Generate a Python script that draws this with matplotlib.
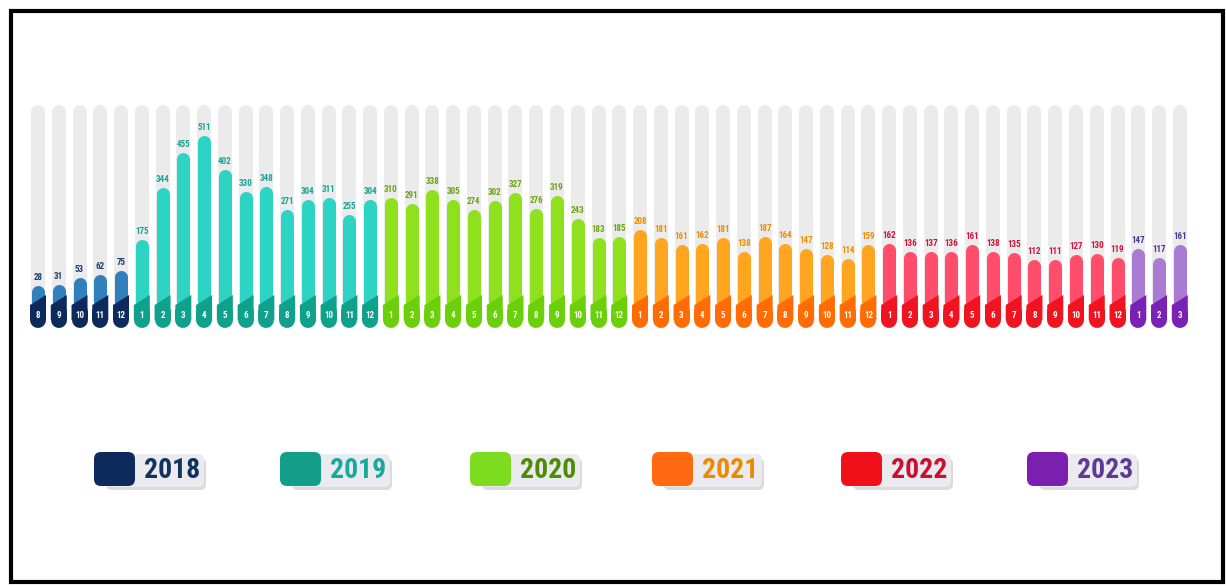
import matplotlib.pyplot as plt
import numpy as np
from matplotlib.patches import FancyBboxPatch, Polygon, Rectangle

# data
years = ["2018", "2019", "2020", "2021", "2022", "2023"]
months_2018 = [8, 9, 10, 11, 12]
months_2019 = list(range(1, 13))
months_2020 = list(range(1, 13))
months_2021 = list(range(1, 13))
months_2022 = list(range(1, 13))
months_2023 = [1, 2, 3]

vals_2018 = [28, 31, 53, 62, 75]
vals_2019 = [175, 344, 455, 511, 402, 330, 348, 271, 304, 311, 255, 304]
vals_2020 = [310, 291, 338, 305, 274, 302, 327, 276, 319, 243, 183, 185]
vals_2021 = [208, 181, 161, 162, 181, 138, 187, 164, 147, 128, 114, 159]
vals_2022 = [162, 136, 137, 136, 161, 138, 135, 112, 111, 127, 130, 119]
vals_2023 = [147, 117, 161]

months = [months_2018, months_2019, months_2020, months_2021, months_2022, months_2023]
values = [vals_2018, vals_2019, vals_2020, vals_2021, vals_2022, vals_2023]

bar_colors = ["#2f80bd", "#2dd3c3", "#8fe11e", "#ffa51f", "#ff4d6b", "#a97bd2"]
cap_colors = ["#0c2b5c", "#10a18d", "#6ccf0b", "#ff6c05", "#f01420", "#7a22b4"]
label_colors = ["#1b3d6c", "#14a596", "#6aa412", "#f08c00", "#d0123a", "#4d3588"]
swatch_colors = ["#0e2a5c", "#139e8a", "#7ddc1f", "#ff6a10", "#f0101a", "#7b1fb0"]
legend_text_colors = ["#12325e", "#17aa9c", "#4f8c06", "#ea8a00", "#c81030", "#5e3a94"]

FONT = ["Roboto Condensed", "DejaVu Sans"]

W, H = 1226, 587
fig = plt.figure(figsize=(W / 100, H / 100), dpi=100)
fig.patch.set_facecolor("white")

# overlay in pixel units (legend + frame)
ov = fig.add_axes([0, 0, 1, 1])
ov.set_xlim(0, W)
ov.set_ylim(H, 0)
ov.axis("off")

# bar axes: pixel mapping, visible top = 294 - 0.31 * v
px_per_unit = 0.31
base_px = 300.5
ax_top_px, ax_bot_px = 95, 340
step_px = 20.76
x0_px = 38 - step_px
n_bars = sum(len(v) for v in values)
ax = fig.add_axes([x0_px / W, 1 - ax_bot_px / H, (n_bars + 1) * step_px / W, (ax_bot_px - ax_top_px) / H])
ax.set_xlim(-1, n_bars)
ax.set_ylim((base_px - ax_bot_px) / px_per_unit, (base_px - ax_top_px) / px_per_unit)
ax.axis("off")


def units(px):
    return (base_px - px) / px_per_unit


gray_top = units(111.5)
cap_left_top = units(305)
cap_right_top = units(295)
cap_bottom = units(320)
cap_mid = units(312)
num_y = units(316)
half_w = 8 / step_px

i = 0
for yi, (ms, vs) in enumerate(zip(months, values)):
    for m, v in zip(ms, vs):
        ax.plot([i, i], [0, gray_top], color="#ebebeb", lw=10.1,
                solid_capstyle="round", zorder=1)
        ax.plot([i, i], [0, v], color=bar_colors[yi], lw=9.4,
                solid_capstyle="round", zorder=2)
        ax.plot([i, i], [cap_bottom, cap_mid], color=cap_colors[yi], lw=11.5,
                solid_capstyle="round", zorder=3)
        ax.add_patch(Polygon([(i - half_w, cap_bottom), (i + half_w, cap_bottom),
                              (i + half_w, cap_right_top), (i - half_w, cap_left_top)],
                             closed=True, facecolor=cap_colors[yi], edgecolor="none",
                             zorder=3))
        ax.text(i, num_y, str(m), color="white", fontsize=6.5, fontweight="bold",
                family=FONT, fontstretch="condensed", ha="center", va="center", zorder=4)
        ax.annotate(str(v), (i, v), xytext=(0, 10), textcoords="offset pixels",
                    ha="center", va="bottom", fontsize=6.5, fontweight="bold",
                    family=FONT, fontstretch="condensed",
                    color=label_colors[yi], zorder=4)
        i += 1

# legend
legend_left = [94, 280, 470, 652, 841, 1027]
for yi, (lx, yr) in enumerate(zip(legend_left, years)):
    ov.add_patch(FancyBboxPatch((lx + 12, 458), 100, 32, boxstyle="round,pad=0,rounding_size=6",
                                facecolor="#d2d2d8", edgecolor="none", alpha=0.8))
    ov.add_patch(FancyBboxPatch((lx + 10, 454), 100, 33, boxstyle="round,pad=0,rounding_size=6",
                                facecolor="#ebebef", edgecolor="none"))
    ov.add_patch(FancyBboxPatch((lx, 452), 41, 34, boxstyle="round,pad=0,rounding_size=7",
                                facecolor=swatch_colors[yi], edgecolor="none"))
    ov.text(lx + 50, 470, yr, fontsize=20, fontweight="bold", family=FONT,
            fontstretch="condensed", color=legend_text_colors[yi],
            ha="left", va="center")

# frame
ov.add_patch(Rectangle((10.5, 10.5), 1212, 571, fill=False, edgecolor="black", lw=3))

fig.savefig("out.png", dpi=100, facecolor="white")
